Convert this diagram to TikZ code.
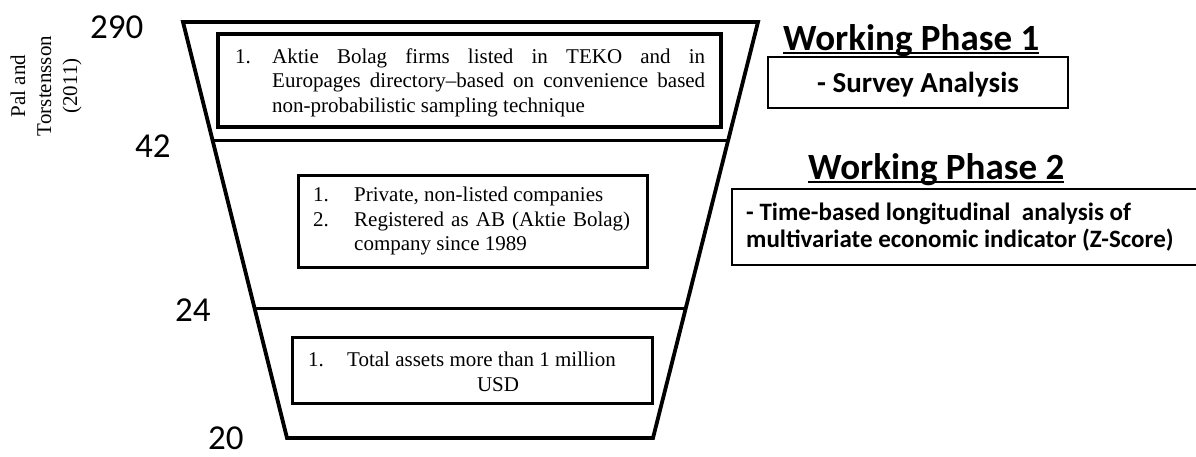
\documentclass[tikz,border=0pt]{standalone}
\usepackage{fontspec}
\setmainfont{Liberation Serif}
\newfontfamily\calibrifont{Carlito}
\usetikzlibrary{calc}

\begin{document}
\begin{tikzpicture}[x=1pt, y=-1pt,
  serif/.style={font=\fontsize{21}{24.5}\selectfont, inner sep=0pt, anchor=base west},
  count/.style={font=\calibrifont\fontsize{35}{40}\selectfont, inner sep=0pt, anchor=base west},
  phasetitle/.style={font=\calibrifont\bfseries\fontsize{37}{42}\selectfont, inner sep=0pt, anchor=base west},
  phasetext/.style={font=\calibrifont\bfseries\fontsize{25}{27}\selectfont, inner sep=0pt, anchor=base west},
  funnel/.style={line width=3.8pt, line join=miter},
  divider/.style={line width=3pt},
  critbox/.style={line width=3pt},
  phasebox/.style={line width=1.8pt},
  underline/.style={line width=2pt}]
\useasboundingbox (0,0) rectangle (1196,456);

% funnel outline and its two cuts
\coordinate (tl) at (183,22);
\coordinate (tr) at (758,22);
\coordinate (br) at (653,438);
\coordinate (bl) at (287,438);
\draw[funnel] (tl) -- (tr) -- (br) -- (bl) -- cycle;
\draw[divider] ($(tl)!0.286!(bl)$) -- ($(tr)!0.286!(br)$);
\draw[divider] ($(tl)!0.6875!(bl)$) -- ($(tr)!0.6875!(br)$);

% sample sizes at each stage
\node[count] (n290) at (90,38) {290};
\node[count] (n42) at (135,157) {42};
\node[count] (n24) at (175,321) {24};
\node[count] (n20) at (208,449) {20};

% source
\node[font=\fontsize{21}{26}\selectfont, align=center, rotate=90, inner sep=0pt] (src) at (46,86)
  {Pal and\\Torstensson\\(2011)};

% stage 1 criteria
\draw[critbox, line width=4pt] (218,34) rectangle (721,127);
\node[serif] (c1n) at (235,63) {1.};
\node[serif] (c1a) at (272,63) {\makebox[433pt][s]{Aktie Bolag firms listed in TEKO and in}};
\node[serif] (c1b) at (272,87.5) {\makebox[433pt][s]{Europages directory--based on convenience based}};
\node[serif] (c1c) at (272,112) {non-probabilistic sampling technique};

% stage 2 criteria
\draw[critbox] (298,175) rectangle (647,267);
\node[serif] (c2n1) at (313,201.5) {1.};
\node[serif] (c2a) at (354,201.5) {Private, non-listed companies};
\node[serif] (c2n2) at (313,226) {2.};
\node[serif] (c2b) at (354,226) {\makebox[276pt][s]{Registered as AB (Aktie Bolag)}};
\node[serif] (c2c) at (354,250.5) {company since 1989};

% stage 3 criteria
\draw[critbox] (292,337) rectangle (652,403);
\node[serif] (c3n) at (308,366.5) {1.};
\node[serif] (c3a) at (347,366.5) {Total assets more than 1 million};
\node[serif, anchor=base] (c3b) at (498,391) {USD};

% working phase 1
\node[phasetitle] (wp1) at (783,50) {Working Phase 1};
\draw[underline] ($(wp1.base west)+(0,3)$) -- ($(wp1.base east)+(0,3)$);
\draw[phasebox] (768,57) rectangle (1068,108);
\node[font=\calibrifont\bfseries\fontsize{29}{32}\selectfont, inner sep=0pt, anchor=base] (wp1t) at (918,92) {- Survey Analysis};

% working phase 2
\node[phasetitle] (wp2) at (808,179) {Working Phase 2};
\draw[underline] ($(wp2.base west)+(0,3)$) -- ($(wp2.base east)+(0,3)$);
\begin{scope}
  \clip (0,0) rectangle (1196,456);
  \draw[phasebox] (732,189) rectangle (1210,265);
\end{scope}
\node[phasetext] (wp2a) at (746,220) {- Time-based longitudinal\ \ analysis of};
\node[phasetext] (wp2b) at (746,247) {multivariate economic indicator (Z-Score)};
\end{tikzpicture}
\end{document}
